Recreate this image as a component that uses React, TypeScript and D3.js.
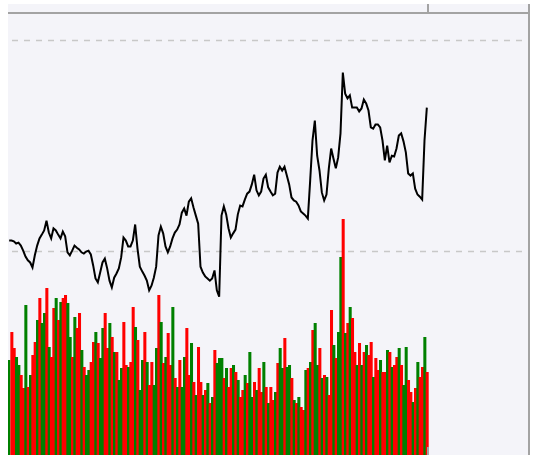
import React, {Component} from 'react';
import * as d3 from 'd3';

const width = 533;
const height = 455;

// closing price per session
const closePrices = [
    25.26, 25.26, 25.24, 25.19, 25.21, 25.14, 25.02, 24.88, 24.79, 24.74,
    24.62, 24.91, 25.14, 25.31, 25.40, 25.50, 25.73, 25.45, 25.31, 25.55,
    25.50, 25.40, 25.31, 25.47, 25.36, 24.98, 24.91, 25.02, 25.14, 25.09,
    25.05, 24.98, 24.95, 25.00, 25.02, 24.93, 24.67, 24.36, 24.27, 24.50,
    24.74, 24.83, 24.60, 24.31, 24.15, 24.38, 24.48, 24.60, 24.86, 25.33,
    25.26, 25.12, 25.12, 25.26, 25.64, 25.07, 24.64, 24.53, 24.43, 24.31,
    24.08, 24.19, 24.38, 24.64, 25.38, 25.59, 25.43, 25.12, 24.98, 25.12,
    25.31, 25.45, 25.52, 25.64, 25.92, 26.02, 25.85, 26.18, 26.26, 26.04,
    25.85, 25.66, 24.64, 24.50, 24.41, 24.36, 24.31, 24.36, 24.55, 24.08,
    23.93, 25.85, 26.07, 25.88, 25.55, 25.33, 25.43, 25.52, 25.88, 26.09,
    26.07, 26.23, 26.37, 26.42, 26.59, 26.82, 26.45, 26.33, 26.42, 26.73,
    26.82, 26.52, 26.42, 26.33, 26.37, 26.87, 27.01, 26.92, 27.01, 26.80,
    26.59, 26.28, 26.21, 26.18, 26.09, 25.95, 25.90, 25.85, 25.78, 26.68,
    27.63, 28.10, 27.27, 26.92, 26.40, 26.21, 26.35, 26.97, 27.44, 27.20,
    26.97, 27.23, 27.80, 29.24, 28.74, 28.63, 28.70, 28.41, 28.41, 28.41,
    28.32, 28.39, 28.60, 28.51, 28.34, 27.94, 27.91, 28.01, 28.01, 27.94,
    27.63, 27.16, 27.51, 27.11, 27.27, 27.25, 27.44, 27.75, 27.80, 27.61,
    27.35, 26.85, 26.80, 26.85, 26.49, 26.35, 26.30, 26.23, 27.63, 28.41
];

// traded volume per session (thousand lots)
const volumes = [
    115, 143, 127, 118, 110, 100, 87, 170, 88, 100,
    120, 133, 155, 177, 152, 162, 187, 128, 118, 167,
    177, 155, 173, 177, 180, 172, 138, 118, 158, 147,
    162, 125, 108, 100, 105, 113, 133, 143, 132, 117,
    147, 162, 127, 152, 138, 123, 123, 95, 107, 153,
    110, 108, 113, 168, 148, 135, 85, 115, 143, 113,
    90, 113, 90, 127, 180, 153, 112, 118, 142, 110,
    168, 97, 88, 115, 88, 118, 147, 100, 132, 93,
    80, 128, 93, 80, 85, 92, 72, 78, 125, 112,
    117, 117, 97, 107, 88, 107, 110, 103, 95, 78,
    85, 100, 92, 123, 78, 93, 85, 107, 83, 113,
    88, 72, 88, 75, 83, 112, 127, 107, 137, 108,
    110, 97, 75, 72, 78, 68, 65, 105, 107, 113,
    145, 152, 110, 127, 97, 100, 98, 80, 165, 130,
    117, 143, 218, 256, 142, 152, 168, 157, 123, 110,
    132, 110, 123, 130, 120, 133, 98, 117, 105, 115,
    103, 103, 125, 123, 108, 110, 118, 127, 110, 90,
    128, 95, 83, 73, 87, 113, 98, 108, 138, 103
];

// session direction: R = rising (red), G = falling (green)
const directions = (
    "GRRGGRRGRG" +
    "RRGRGGRGRR" +
    "GRGRRGGRGR" +
    "RGRGGRRGRG" +
    "GRRGRGRGGR" +
    "RGRRGRGGRG" +
    "RRGGRGRGRR" +
    "GRGRGGRRGR" +
    "GRRGRGRGRG" +
    "GGRGRRGRGR" +
    "RGRGGRGRRG" +
    "RGRRGRGGRG" +
    "GRGRGRRGRG" +
    "RGGRGRGRRG" +
    "RGGRGRGRRG" +
    "RGRGRRGRRG" +
    "RRGRGRRGRG" +
    "GRRGRGRRGR"
).split("");

const gridPrices = [25, 30];

const upColor = "#ff0000";
const downColor = "#008000";

class App extends Component {
    svgRef = React.createRef<SVGSVGElement>();

    componentDidMount() {
        this.draw();
    }

    draw() {
        const svg = d3.select(this.svgRef.current);
        svg.selectAll("*").remove();

        const frameLeft = 8;
        const frameRight = 530;
        const frameTop = 4;
        const borderY = 13;
        const plotRight = 428;

        svg.append("rect")
            .attr("x", frameLeft)
            .attr("y", frameTop)
            .attr("width", frameRight - frameLeft)
            .attr("height", height - frameTop)
            .attr("fill", "#f4f4f9");

        const xScale = d3.scaleBand<number>()
            .domain(d3.range(closePrices.length))
            .range([frameLeft, plotRight]);
        const priceScale = d3.scaleLinear()
            .domain([25, 30])
            .range([251.5, 40.5]);
        const volumeScale = d3.scaleLinear()
            .domain([0, 260])
            .range([475, 215]);

        // dashed price grid
        svg.selectAll("line.grid")
            .data(gridPrices)
            .enter()
            .append("line")
            .attr("class", "grid")
            .attr("x1", 12)
            .attr("x2", 526)
            .attr("y1", d => priceScale(d))
            .attr("y2", d => priceScale(d))
            .attr("stroke", "#c8c8c8")
            .attr("stroke-width", 1.5)
            .attr("stroke-dasharray", "6,6");

        // volume bars
        const barWidth = xScale.bandwidth() + 0.7;
        svg.append("g")
            .selectAll("rect")
            .data(volumes)
            .enter()
            .append("rect")
            .attr("x", (d, i) => Math.max(frameLeft, xScale(i)!))
            .attr("y", d => volumeScale(d))
            .attr("width", (d, i) => i === 0 ? xScale.bandwidth() : barWidth)
            .attr("height", d => volumeScale(0) - volumeScale(d))
            .attr("fill", (d, i) => directions[i] === "R" ? upColor : downColor);

        const line = d3.line<number>()
            .x((d, i) => xScale(i)! + xScale.bandwidth() / 2)
            .y(d => priceScale(d));
        svg.append("path")
            .datum(closePrices)
            .attr("d", line)
            .attr("fill", "none")
            .attr("stroke", "#000")
            .attr("stroke-width", 2);

        // frame
        svg.append("rect")
            .attr("x", frameLeft)
            .attr("y", borderY - 1)
            .attr("width", frameRight - frameLeft)
            .attr("height", 2)
            .attr("fill", "#a3a3a3");
        svg.append("rect")
            .attr("x", frameRight - 2)
            .attr("y", frameTop)
            .attr("width", 2)
            .attr("height", height - frameTop)
            .attr("fill", "#a3a3a3");
        svg.append("rect")
            .attr("x", plotRight - 1)
            .attr("y", frameTop)
            .attr("width", 2)
            .attr("height", borderY - frameTop)
            .attr("fill", "#a3a3a3");
        svg.append("rect")
            .attr("x", plotRight - 1)
            .attr("y", 447)
            .attr("width", 2)
            .attr("height", height - 447)
            .attr("fill", "#a3a3a3");
    }

    render() {
        return (
            <svg
                ref={this.svgRef}
                width={width}
                height={height}
                style={{position: "absolute", left: 0, top: 0}}
            />
        );
    }
}

export default App;
